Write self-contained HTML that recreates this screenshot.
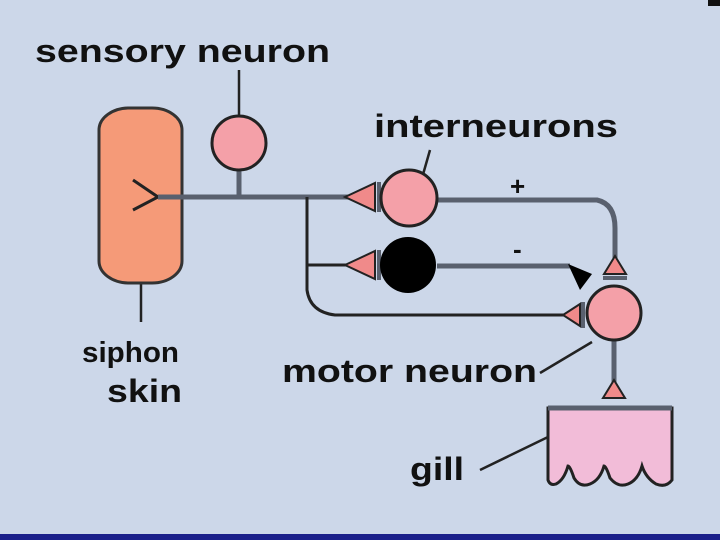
<!DOCTYPE html>
<html><head><style>html,body{margin:0;padding:0;background:#ccd7e9;}svg{display:block}</style></head><body>
<svg width="720" height="540" viewBox="0 0 720 540" xmlns="http://www.w3.org/2000/svg">
<rect width="720" height="540" fill="#ccd7e9"/>
<rect x="0" y="534" width="720" height="6" fill="#1a1f8a"/>
<rect x="708" y="0" width="12" height="6" fill="#111"/>
<g font-family="Liberation Sans, sans-serif" font-weight="bold" font-size="32" fill="#111">
<text x="35" y="62" textLength="295" lengthAdjust="spacingAndGlyphs">sensory neuron</text>
<text x="374" y="137" textLength="244" lengthAdjust="spacingAndGlyphs">interneurons</text>
<text x="82" y="362" font-size="29" textLength="97" lengthAdjust="spacingAndGlyphs">siphon</text>
<text x="107" y="402" textLength="75" lengthAdjust="spacingAndGlyphs">skin</text>
<text x="282" y="382" textLength="255" lengthAdjust="spacingAndGlyphs">motor neuron</text>
<text x="410" y="480" textLength="54" lengthAdjust="spacingAndGlyphs">gill</text>
<text x="510" y="195" font-size="26">+</text>
<text x="513" y="258" font-size="26">-</text>
</g>
<g stroke="#222" stroke-width="2.5" fill="none">
<line x1="239" y1="70" x2="239" y2="118"/>
<line x1="430" y1="150" x2="420" y2="185"/>
<line x1="141" y1="252" x2="141" y2="322"/>
<line x1="540" y1="373" x2="592" y2="342"/>
<line x1="480" y1="470" x2="548" y2="437"/>
</g>
<rect x="99" y="108" width="83" height="175" rx="30" ry="22" fill="#f59a78" stroke="#333" stroke-width="3"/>
<polyline points="133,180 158,197 133,210" fill="none" stroke="#222" stroke-width="3"/>
<g stroke="#59606e" stroke-width="5" fill="none">
<line x1="158" y1="197" x2="348" y2="197"/>
<line x1="239" y1="170" x2="239" y2="197"/>
<path d="M437,200 H597 Q615,204 615,228 V258"/>
<line x1="437" y1="266" x2="570" y2="266"/>
<line x1="614" y1="340" x2="614" y2="382"/>
</g>
<g stroke="#222" stroke-width="3" fill="none">
<path d="M307,197 V290 Q310,312 335,315 H565"/>
<line x1="307" y1="265" x2="348" y2="265"/>
</g>
<g fill="#f08a8a" stroke="#222" stroke-width="2">
<polygon points="345,197 375,183 375,211"/>
<polygon points="345,265 375,251 375,279"/>
<polygon points="563,315 580,304 580,326"/>
<polygon points="615,256 604,274 626,274"/>
<polygon points="614,380 603,398 625,398"/>
</g>
<g stroke="#59606e" stroke-width="4">
<line x1="379" y1="182" x2="379" y2="212"/>
<line x1="379" y1="250" x2="379" y2="280"/>
<line x1="583" y1="302" x2="583" y2="328"/>
<line x1="603" y1="278" x2="627" y2="278"/>
</g>
<polygon points="568,264 592,274 580,290" fill="#000"/>
<circle cx="239" cy="143" r="27" fill="#f4a0a8" stroke="#222" stroke-width="3"/>
<circle cx="409" cy="198" r="28" fill="#f4a0a8" stroke="#222" stroke-width="3"/>
<circle cx="408" cy="265" r="28" fill="#000"/>
<circle cx="614" cy="313" r="27" fill="#f4a0a8" stroke="#222" stroke-width="3"/>
<path d="M548,408 H672 V480 Q666,488 656,484 Q646,478 642,466 Q638,480 628,484 Q618,488 610,478 Q606,466 604,466 Q600,480 590,484 Q580,488 574,478 Q570,466 568,466 Q564,480 556,484 Q550,486 548,480 Z" fill="#f2bcd8" stroke="#222" stroke-width="3"/>
<line x1="548" y1="408" x2="672" y2="408" stroke="#59606e" stroke-width="5"/>
</svg>
</body></html>
